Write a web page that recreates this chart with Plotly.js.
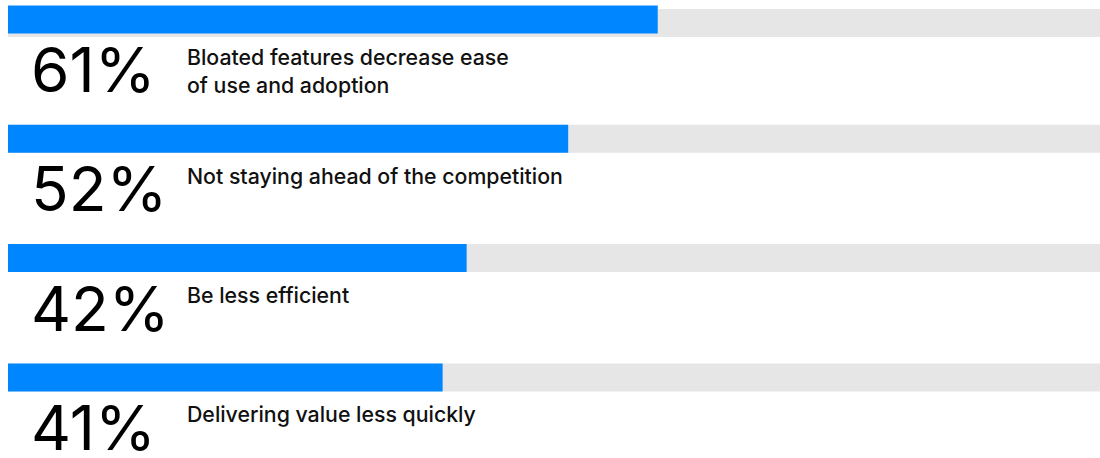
<!DOCTYPE html>
<html>
<head>
<meta charset="utf-8">
<script src="https://cdn.plot.ly/plotly-3.0.1.min.js"></script>
<style>
  html, body { margin: 0; padding: 0; background: #ffffff; }
  #chart { width: 1100px; height: 458px; }
</style>
</head>
<body>
<div id="chart"></div>
<script>
// Data
const pctLabels = ["61%", "52%", "42%", "41%"];
const reasons = [
  "Bloated features decrease ease<br>of use and adoption",
  "Not staying ahead of the competition",
  "Be less efficient",
  "Delivering value less quickly"
];
// bar lengths as drawn in the picture (percent of the full grey track)
const barLengths = [59.5, 51.3, 42.0, 39.8];
const trackLengths = [100, 100, 100, 100];
const rows = [0, 1, 2, 3];

const BLUE = "#0086FF";
const GREY = "#E6E6E6";
const FONT = "Inter, Roboto, 'Noto Sans', sans-serif";
const BAR_W = 0.235;

const track = {
  type: "bar", orientation: "h",
  x: trackLengths, y: rows,
  width: BAR_W,
  offset: [-BAR_W / 2 + 0.03, -BAR_W / 2, -BAR_W / 2, -BAR_W / 2],
  marker: { color: GREY, line: { width: 0 } },
  hoverinfo: "skip", showlegend: false
};
const fill = {
  type: "bar", orientation: "h",
  x: barLengths, y: rows,
  width: BAR_W,
  marker: { color: BLUE, line: { width: 0 } },
  hoverinfo: "skip", showlegend: false
};

const annotations = [];
rows.forEach((r, i) => {
  annotations.push({
    xref: "x", yref: "y", x: 1.95, y: r,
    xanchor: "left", yanchor: "middle", yshift: -50,
    text: pctLabels[i], showarrow: false,
    font: { family: FONT, size: 62, color: "#000000", weight: 400 }
  });
  annotations.push({
    xref: "x", yref: "y", x: 16.2, y: r,
    xanchor: "left", yanchor: "top", yshift: -22,
    align: "left",
    text: reasons[i], showarrow: false,
    font: { family: FONT, size: 21.3, color: "#111111", weight: 500 }
  });
});

const layout = {
  width: 1100, height: 458,
  margin: { l: 8, r: 0, t: 0, b: 0, pad: 0 },
  paper_bgcolor: "#ffffff", plot_bgcolor: "#ffffff",
  barmode: "overlay",
  xaxis: { range: [0, 100], visible: false, fixedrange: true },
  yaxis: { range: [3.6756, -0.1635], visible: false, fixedrange: true },
  annotations: annotations,
  showlegend: false,
  hovermode: false
};

Plotly.newPlot("chart", [track, fill], layout, { staticPlot: true, displayModeBar: false });
</script>
</body>
</html>
